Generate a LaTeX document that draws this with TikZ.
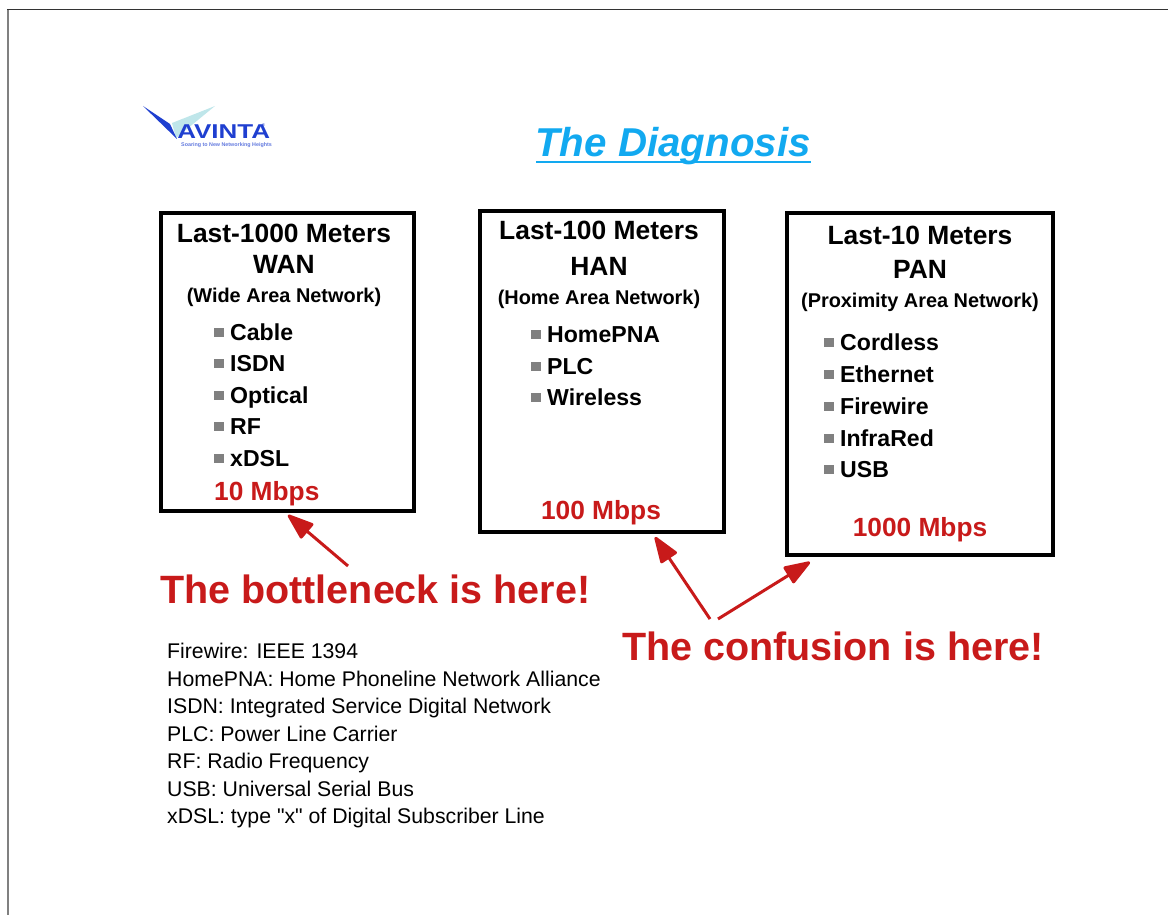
\documentclass[tikz,border=0pt]{standalone}
\usepackage{fontspec}
\setmainfont[Ligatures=TeXOff]{Liberation Sans}
\usetikzlibrary{arrows.meta}
\definecolor{avred}{HTML}{C81A1A}
\definecolor{avblue}{HTML}{12A9F0}
\definecolor{logoblue}{HTML}{1F3FD0}
\definecolor{logopale}{HTML}{BFE6EA}
\tikzset{
	netbox/.style={draw=black, line width=4pt, fill=white},
	head/.style={font=\fontsize{26.4}{26}\selectfont\bfseries, anchor=base},
	sub/.style={font=\fontsize{19.9}{20}\selectfont\bfseries, anchor=base},
	item/.style={font=\fontsize{23.1}{24}\selectfont\bfseries, anchor=base west, inner sep=0pt},
	rate/.style={font=\fontsize{26.3}{26}\selectfont\bfseries, text=avred, anchor=base, inner sep=0pt},
	shout/.style={font=\fontsize{39.5}{40}\selectfont\bfseries, text=avred, anchor=base west, inner sep=0pt},
	gloss/.style={font=\fontsize{21.25}{21}\selectfont, anchor=base west, inner sep=0pt},
	pointer/.style={draw=avred, line width=3pt, -{Triangle[length=29pt, width=20pt, round]}}
}
\begin{document}
\begin{tikzpicture}[x=1pt, y=-1pt]
	\useasboundingbox (0, 0) rectangle (1168, 915);

	% page edge
	\draw[gray, line width=2.5pt] (8, 915) -- (8, 10);
	\draw[black!80, line width=1pt] (7, 10) -- (1168, 10);

	% logo
	\fill[logopale] (172, 123) -- (215, 106) -- (176, 138) -- cycle;
	\fill[logoblue] (143, 106) -- (170, 124) -- (177, 139) -- cycle;
	\node[font=\fontsize{20}{20}\selectfont\bfseries, text=logoblue, anchor=base west, inner sep=0pt, transform shape, xscale=1.3] (logo) at (177, 139) {AVINTA};
	\node[font=\fontsize{4}{4}\selectfont, text=logoblue, anchor=base west, inner sep=0pt] (regmark) at (262, 127) {®};
	\node[font=\fontsize{5.35}{6}\selectfont\bfseries, text=logoblue!70, anchor=base west, inner sep=0pt] (slogan) at (181, 147) {Soaring to New Networking Heights};

	\node[font=\fontsize{40.3}{40}\selectfont\bfseries\itshape, text=avblue, anchor=base, inner sep=0pt] (title) at (673, 157) {The Diagnosis};
	\draw[avblue, line width=2.5pt] (536, 162) -- (811, 162);

	% the three boxes
	\node[netbox, minimum width=253pt, minimum height=298pt] (wan) at (287.5, 362) {};
	\node[netbox, minimum width=244pt, minimum height=321pt] (han) at (602, 371.5) {};
	\node[netbox, minimum width=266pt, minimum height=342pt] (pan) at (920, 384) {};

	\node[head] (wan1) at (284, 242) {Last-1000 Meters};
	\node[head] (wan2) at (284, 273) {WAN};
	\node[sub] (wan3) at (284, 302) {(Wide Area Network)};
	\node[head] (han1) at (599, 240) {Last-100 Meters};
	\node[head] (han2) at (599, 275) {HAN};
	\node[sub] (han3) at (599, 304) {(Home Area Network)};
	\node[head] (pan1) at (920, 244) {Last-10 Meters};
	\node[head] (pan2) at (920, 278) {PAN};
	\node[sub] (pan3) at (920, 307) {(Proximity Area Network)};

	\foreach \name/\y in {Cable/340, ISDN/371, Optical/403, RF/434, xDSL/466} {
		\fill[gray] (214, \y-12) rectangle (224, \y-3);
		\node[item] (wan\y) at (230, \y) {\name};
	}
	\foreach \name/\y in {HomePNA/342, PLC/374, Wireless/405} {
		\fill[gray] (531, \y-12) rectangle (541, \y-3);
		\node[item] (han\y) at (547, \y) {\name};
	}
	\foreach \name/\y in {Cordless/350, Ethernet/382, Firewire/414, InfraRed/446, USB/477} {
		\fill[gray] (824, \y-12) rectangle (834, \y-3);
		\node[item] (pan\y) at (840, \y) {\name};
	}

	\node[rate, anchor=base west] (wanrate) at (214, 500) {10 Mbps};
	\node[rate] (hanrate) at (601, 519) {100 Mbps};
	\node[rate] (panrate) at (920, 536) {1000 Mbps};

	% pointers
	\node[shout] (bottleneck) at (160, 603) {The bottleneck is here!};
	\node[shout] (confusion) at (622, 660) {The confusion is here!};
	\coordinate (a) at (348, 566);
	\coordinate (atip) at (288, 515);
	\coordinate (b) at (710, 619);
	\coordinate (btip) at (655, 537);
	\coordinate (c) at (718, 619);
	\coordinate (ctip) at (810, 562);
	\draw[pointer] (a) -- (atip);
	\draw[pointer] (b) -- (btip);
	\draw[pointer] (c) -- (ctip);

	% glossary
	\node[gloss] (g1) at (167, 658) {Firewire: IEEE 1394};
	\node[gloss] (g2) at (167, 686) {HomePNA: Home Phoneline Network Alliance};
	\node[gloss] (g3) at (167, 713) {ISDN: Integrated Service Digital Network};
	\node[gloss] (g4) at (167, 741) {PLC: Power Line Carrier};
	\node[gloss] (g5) at (167, 768) {RF: Radio Frequency};
	\node[gloss] (g6) at (167, 796) {USB: Universal Serial Bus};
	\node[gloss] (g7) at (167, 823) {xDSL: type "x" of Digital Subscriber Line};
\end{tikzpicture}
\end{document}
